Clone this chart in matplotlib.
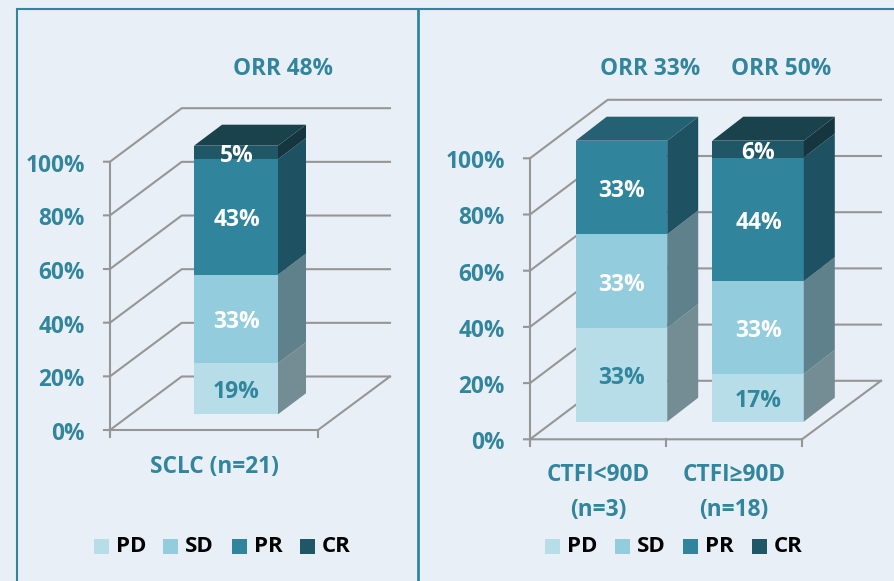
import matplotlib
matplotlib.use('Agg')
import matplotlib.pyplot as plt
from matplotlib.patches import Polygon, Rectangle

plt.rcParams['font.family'] = ['Open Sans', 'DejaVu Sans']

statuses = ['PD', 'SD', 'PR', 'CR']
pct_ticks = [0, 20, 40, 60, 80, 100]

left_names = ['SCLC (n=21)']
left_values = [[19, 33, 43, 5]]
left_orr = ['ORR 48%']

right_names = ['CTFI<90D\n(n=3)', 'CTFI≥90D\n(n=18)']
right_values = [[33, 33, 33, 0], [17, 33, 44, 6]]
right_orr = ['ORR 33%', 'ORR 50%']

bg = '#E9EFF7'
teal = '#31859C'
grid = '#969696'
front = ['#B7DEE8', '#93CDDD', '#30849B', '#1F5766']
side = ['#748C94', '#5E818C', '#1E5263', '#15353F']
top = ['#748C94', '#5E818C', '#246172', '#1A424C']

fig = plt.figure(figsize=(8.94, 5.81), dpi=100, facecolor=bg)
ax = fig.add_axes([0, 0, 1, 1])
ax.set_xlim(0, 894)
ax.set_ylim(581, 0)
ax.axis('off')


def draw_panel(names, values, orr, p):
    x0, y0, y100 = p['x0'], p['y0'], p['y100']
    dx, dy = p['wall_dx'], p['wall_dy']

    # walls, floor and ticks
    for t in pct_ticks:
        y = y0 + (y100 - y0) * t / 100
        ax.plot([x0 - 6, x0, x0 + dx, p['x_back']], [y, y, y - dy, y - dy],
                color=grid, lw=1.5, zorder=1)
        ax.text(x0 - 25, y + 4, f'{t}%', color=teal, fontsize=16.3,
                fontweight='bold', ha='right', va='center')
    ax.plot([x0, x0], [y100, y0 + 5], color=grid, lw=1.5, zorder=1)
    ax.plot([x0, p['x_floor'], p['x_back']], [y0, y0, y0 - dy],
            color=grid, lw=1.5, zorder=1)
    for tx in p['ticks']:
        ax.plot([tx, tx], [y0, y0 + 7], color=grid, lw=1.5, zorder=1)

    # stacked bars
    w, bdx, bdy = p['bar_w'], p['bar_dx'], p['bar_dy']
    scale = p['bar_bottom'] - p['bar_top']
    for i, vals in enumerate(values):
        bx = p['bar_x'][i]
        total = sum(vals)
        cum = 0
        last = max(k for k, v in enumerate(vals) if v > 0)
        for k, v in enumerate(vals):
            if v == 0:
                continue
            ya = p['bar_bottom'] - scale * cum / total
            yb = p['bar_bottom'] - scale * (cum + v) / total
            ax.add_patch(Rectangle((bx, yb), w, ya - yb, fc=front[k], ec='none', zorder=3))
            ax.add_patch(Polygon([(bx + w, ya), (bx + w + bdx, ya - bdy),
                                  (bx + w + bdx, yb - bdy), (bx + w, yb)],
                                 fc=side[k], ec='none', zorder=3))
            if k == last:
                ax.add_patch(Polygon([(bx, yb), (bx + bdx, yb - bdy),
                                      (bx + w + bdx, yb - bdy), (bx + w, yb)],
                                     fc=top[k], ec='none', zorder=3))
            col = teal if k == 0 else 'white'
            ax.text(bx + w / 2 + 0.5, (ya + yb) / 2 + 3.5, f'{v}%', color=col, fontsize=16.5,
                    fontweight='bold', ha='center', va='center', zorder=4)
            cum += v
        ax.text(p['orr_x'][i], 69, orr[i], color=teal, fontsize=16.3,
                fontweight='bold', ha='center', va='center')
        ax.text(p['name_x'][i], p['name_y'], names[i], color=teal, fontsize=16.3,
                fontweight='bold', ha='center', va='top', linespacing=1.6)

    # legend
    for k, name in enumerate(statuses):
        lx = p['legend_x'][k]
        ax.add_patch(Rectangle((lx, 539), 15, 15, fc=front[k], ec='none'))
        ax.text(lx + 22, 547, name, color='black', fontsize=16,
                fontweight='bold', ha='left', va='center')


left_panel = dict(x0=110, y0=430, y100=161.7, wall_dx=71.7, wall_dy=53.5, x_back=390,
                  x_floor=318, ticks=[110, 318], bar_x=[194], bar_w=84, bar_dx=28, bar_dy=21,
                  bar_bottom=414.3, bar_top=145.7, orr_x=[283], name_x=[214], name_y=455,
                  legend_x=[94, 163, 232, 300])
right_panel = dict(x0=530, y0=439.3, y100=158.3, wall_dx=77.7, wall_dy=58.5, x_back=881,
                   x_floor=802, ticks=[530, 666, 802], bar_x=[575.7, 712.3], bar_w=91.5,
                   bar_dx=31, bar_dy=24, bar_bottom=421.7, bar_top=140.7,
                   orr_x=[650, 781], name_x=[598, 734], name_y=463,
                   legend_x=[545, 615, 683, 752])

draw_panel(left_names, left_values, left_orr, left_panel)
draw_panel(right_names, right_values, right_orr, right_panel)

# panel frame
ax.plot([17, 17], [9, 581], color=teal, lw=1.5)
ax.plot([418, 418], [9, 581], color=teal, lw=2)
ax.plot([17, 894], [9, 9], color=teal, lw=1.5)

fig.savefig('out.png', dpi=100, facecolor=bg)
